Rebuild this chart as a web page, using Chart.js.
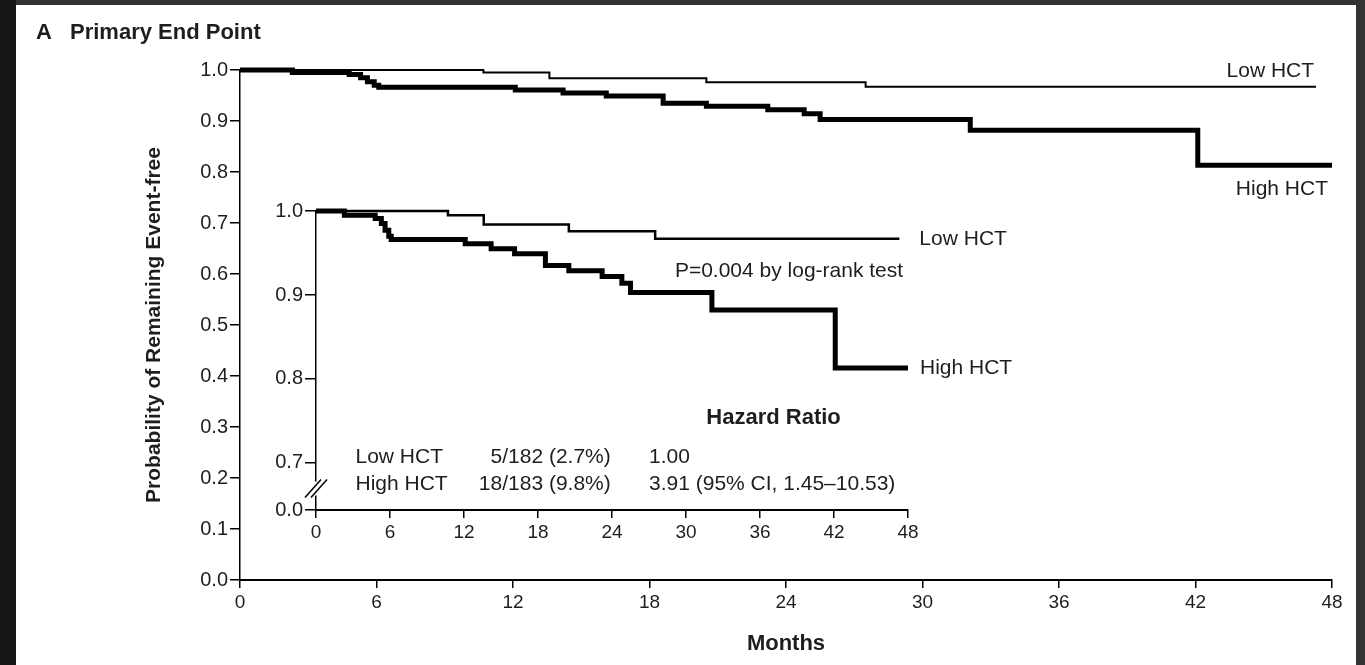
<!DOCTYPE html>
<html>
<head>
<meta charset="utf-8">
<script src="https://cdn.jsdelivr.net/npm/chart.js@4.4.1/dist/chart.umd.min.js"></script>
<style>
  html, body { margin: 0; padding: 0; }
  body { width: 1365px; height: 665px; background: #333; position: relative; overflow: hidden; }
  #strip { position: absolute; left: 0; top: 0; width: 16px; height: 665px; background: #161616; }
  #panel { position: absolute; left: 16px; top: 5px; width: 1340px; height: 660px; background: #fff; }
  #main { position: absolute; left: 0; top: 0; }
  #inset { position: absolute; left: 250px; top: 190px; }
</style>
</head>
<body>
<div id="strip"></div>
<div id="panel"></div>
<canvas id="main" width="1365" height="665"></canvas>
<canvas id="inset" width="800" height="360"></canvas>
<script>
// Kaplan-Meier curves (months, probability event-free)
const lowMonths = [0, 10.7, 13.6, 20.5, 27.5, 47.3];
const lowSurv = [1.0, 0.995, 0.984, 0.976, 0.967, 0.967];
const highMonths = [0, 2.3, 4.8, 5.3, 5.6, 5.9, 6.1, 12.1, 14.2, 16.1, 18.6, 20.5, 23.2, 24.8, 25.5, 32.1, 42.1, 48.0];
const highSurv = [1.0, 0.995, 0.991, 0.985, 0.977, 0.970, 0.966, 0.961, 0.955, 0.949, 0.935, 0.929, 0.922, 0.914, 0.903, 0.882, 0.813, 0.813];

const monthTicks = [0, 6, 12, 18, 24, 30, 36, 42, 48];
const mainYTicks = [0.0, 0.1, 0.2, 0.3, 0.4, 0.5, 0.6, 0.7, 0.8, 0.9, 1.0];
// inset axis is broken between 0.7 and 0.0
const insetYMin = 0.644;
const insetYTickValues = [insetYMin, 0.7, 0.8, 0.9, 1.0];
const insetYTickLabels = ["0.0", "0.7", "0.8", "0.9", "1.0"];

const groups = ["Low HCT", "High HCT"];
const eventCounts = ["5/182 (2.7%)", "18/183 (9.8%)"];
const hazardRatios = ["1.00", "3.91 (95% CI, 1.45\u201310.53)"];
const pText = "P=0.004 by log-rank test";

const FONT = "'Liberation Sans', Arial, sans-serif";
const INK = "#1e1e1e";

function puntos(meses, valores) {
    return meses.map((m, i) => ({ x: m, y: valores[i] }));
}

function texto(ctx, str, x, y, align, size, bold) {
    ctx.save();
    ctx.font = (bold ? "bold " : "") + size + "px " + FONT;
    ctx.fillStyle = INK;
    ctx.textAlign = align;
    ctx.textBaseline = "middle";
    ctx.fillText(str, x, y);
    ctx.restore();
}

function curvas(anchoBajo) {
    return [
        { data: puntos(lowMonths, lowSurv), borderColor: "#000", borderWidth: anchoBajo,
          stepped: "before", pointRadius: 0, borderJoinStyle: "miter", clip: 8 },
        { data: puntos(highMonths, highSurv), borderColor: "#000", borderWidth: 5,
          stepped: "before", pointRadius: 0, borderJoinStyle: "miter", clip: 8 },
    ];
}

const ejeX = (tamTick) => ({
    type: "linear", min: 0, max: 48,
    afterBuildTicks: (s) => { s.ticks = monthTicks.map((v) => ({ value: v })); },
    ticks: { font: { family: FONT, size: tamTick }, color: INK, padding: 3, maxRotation: 0, autoSkip: false,
             callback: (v) => String(v) },
    grid: { drawOnChartArea: false, tickLength: 8, color: "#000", lineWidth: 1.5 },
    border: { color: "#000", width: 2 },
});

// main chart
const textosPrincipal = {
    id: "textosPrincipal",
    afterDatasetsDraw(chart) {
        const ctx = chart.ctx;
        const x = chart.scales.x, y = chart.scales.y;
        texto(ctx, "A", 36, 33, "left", 22, true);
        texto(ctx, "Primary End Point", 70, 33, "left", 22, true);
        const nl = lowMonths.length - 1, nh = highMonths.length - 1;
        texto(ctx, groups[0], x.getPixelForValue(lowMonths[nl]) - 2, y.getPixelForValue(lowSurv[nl]) - 16, "right", 21);
        texto(ctx, groups[1], x.getPixelForValue(highMonths[nh]) - 4, y.getPixelForValue(highSurv[nh]) + 24, "right", 21);
    },
};

new Chart(document.querySelector("#main").getContext("2d"), {
    type: "line",
    data: { datasets: curvas(2) },
    options: {
        responsive: false,
        animation: false,
        layout: { padding: { left: 135, right: 33, top: 70, bottom: 0 } },
        plugins: { legend: { display: false }, tooltip: { enabled: false } },
        scales: {
            x: Object.assign(ejeX(19), {
                title: { display: true, text: "Months", color: INK,
                         font: { family: FONT, size: 22, weight: "bold" }, padding: { top: 0, bottom: 8 } },
                afterFit: (s) => { s.height = 85; },
            }),
            y: {
                min: 0, max: 1,
                afterBuildTicks: (s) => { s.ticks = mainYTicks.map((v) => ({ value: v })); },
                ticks: { font: { family: FONT, size: 20 }, color: INK, padding: 2, callback: (v) => v.toFixed(1) },
                grid: { drawOnChartArea: false, tickLength: 10, color: "#000", lineWidth: 1.5 },
                border: { color: "#000", width: 1.5 },
                title: { display: true, text: "Probability of Remaining Event-free", color: INK,
                         font: { family: FONT, size: 21, weight: "bold" }, padding: { top: 7, bottom: 0 } },
                afterFit: (s) => { s.width = 105; },
            },
        },
    },
    plugins: [textosPrincipal],
});

// inset chart
const textosRecuadro = {
    id: "textosRecuadro",
    afterDraw(chart) {
        const ctx = chart.ctx;
        const x = chart.scales.x, y = chart.scales.y;
        const nl = lowMonths.length - 1, nh = highMonths.length - 1;
        texto(ctx, groups[0], x.getPixelForValue(lowMonths[nl]) + 20, y.getPixelForValue(lowSurv[nl]), "left", 21);
        texto(ctx, groups[1], x.getPixelForValue(highMonths[nh]) + 12, y.getPixelForValue(highSurv[nh]), "left", 21);
        texto(ctx, pText, x.getPixelForValue(29.1), y.getPixelForValue(0.928), "left", 21);
        texto(ctx, "Hazard Ratio", x.getPixelForValue(37.1), y.getPixelForValue(0.754), "center", 22, true);
        [0.707, 0.675].forEach((fila, i) => {
            const py = y.getPixelForValue(fila);
            texto(ctx, groups[i], x.getPixelForValue(3.2), py, "left", 21);
            texto(ctx, eventCounts[i], x.getPixelForValue(23.9), py, "right", 21);
            texto(ctx, hazardRatios[i], x.getPixelForValue(27.0), py, "left", 21);
        });
        // axis break marks
        const ax = x.left;
        const yc = (y.getPixelForValue(0.7) + y.bottom) / 2 + 2;
        ctx.save();
        ctx.fillStyle = "#fff";
        ctx.fillRect(ax - 3, yc - 7, 6, 14);
        ctx.strokeStyle = "#000";
        ctx.lineWidth = 1.5;
        [-3, 3].forEach((d) => {
            ctx.beginPath();
            ctx.moveTo(ax + d - 8, yc + 9);
            ctx.lineTo(ax + d + 8, yc - 9);
            ctx.stroke();
        });
        ctx.restore();
    },
};

new Chart(document.querySelector("#inset").getContext("2d"), {
    type: "line",
    data: { datasets: curvas(2.5) },
    options: {
        responsive: false,
        animation: false,
        layout: { padding: { left: 0, right: 142, top: 21, bottom: 0 } },
        plugins: { legend: { display: false }, tooltip: { enabled: false } },
        scales: {
            x: Object.assign(ejeX(19), { afterFit: (s) => { s.height = 40; } }),
            y: {
                min: insetYMin, max: 1,
                afterBuildTicks: (s) => { s.ticks = insetYTickValues.map((v) => ({ value: v })); },
                ticks: { font: { family: FONT, size: 20 }, color: INK, padding: 2,
                         callback: (v, i) => insetYTickLabels[i] },
                grid: { drawOnChartArea: false, tickLength: 11, color: "#000", lineWidth: 1.5 },
                border: { color: "#000", width: 1.5 },
                afterFit: (s) => { s.width = 66; },
            },
        },
    },
    plugins: [textosRecuadro],
});
</script>
</body>
</html>
